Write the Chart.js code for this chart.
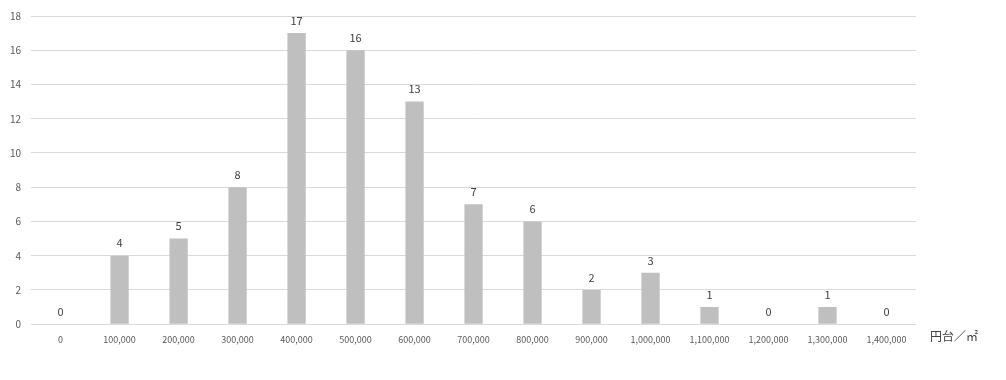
<!DOCTYPE html>
<html>
<head>
<meta charset="utf-8">
<script src="https://cdn.jsdelivr.net/npm/chart.js@4/dist/chart.umd.min.js"></script>
<style>
  html, body { margin: 0; padding: 0; background: #fff; }
  #wrap { width: 1006px; height: 380px; }
</style>
</head>
<body>
<div id="wrap"><canvas id="c" width="1006" height="380"></canvas></div>
<script>
// 価格帯（円台／㎡）ごとの件数
const categories = ['0', '100,000', '200,000', '300,000', '400,000', '500,000', '600,000', '700,000',
  '800,000', '900,000', '1,000,000', '1,100,000', '1,200,000', '1,300,000', '1,400,000'];
const counts = [0, 4, 5, 8, 17, 16, 13, 7, 6, 2, 3, 1, 0, 1, 0];
const unitLabel = '円台／㎡';

const FONT = '"Noto Sans CJK JP", "Open Sans", sans-serif';

// 棒の上に数値を表示
const dataLabelsPlugin = {
  id: 'dataLabels',
  afterDatasetsDraw(chart) {
    const ctx = chart.ctx;
    const meta = chart.getDatasetMeta(0);
    meta.data.forEach((el, i) => {
      ctx.save();
      ctx.font = '11px ' + FONT;
      ctx.fillStyle = '#404040';
      ctx.textAlign = 'center';
      ctx.textBaseline = 'bottom';
      ctx.fillText(String(counts[i]), el.x, el.y - 7);
      ctx.restore();
    });
  }
};

// 横軸の単位
const unitPlugin = {
  id: 'unitLabel',
  afterDraw(chart) {
    const ctx = chart.ctx;
    const area = chart.chartArea;
    ctx.save();
    ctx.font = '12px ' + FONT;
    ctx.fillStyle = '#404040';
    ctx.textAlign = 'left';
    ctx.textBaseline = 'middle';
    ctx.fillText(unitLabel, area.right + 14, area.bottom + 12);
    ctx.restore();
  }
};

new Chart(document.getElementById('c'), {
  type: 'bar',
  data: {
    labels: categories,
    datasets: [{ data: counts, backgroundColor: '#bfbfbf', categoryPercentage: 1, barPercentage: 0.31 }]
  },
  options: {
    responsive: false,
    animation: false,
    layout: { padding: { left: 0, right: 90, top: 3, bottom: 33 } },
    plugins: { legend: { display: false }, tooltip: { enabled: false } },
    scales: {
      x: {
        grid: { display: false },
        border: { display: false },
        ticks: { color: '#595959', font: { family: FONT, size: 9 }, maxRotation: 0, autoSkip: false, padding: 2 }
      },
      y: {
        min: 0, max: 18,
        grid: { color: '#d9d9d9', drawTicks: false },
        border: { display: false },
        ticks: { stepSize: 2, color: '#595959', font: { family: FONT, size: 10 }, padding: 10 }
      }
    }
  },
  plugins: [dataLabelsPlugin, unitPlugin]
});
</script>
</body>
</html>
